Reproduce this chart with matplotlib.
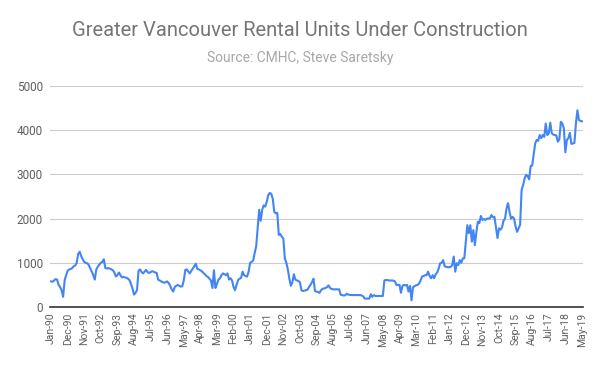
import numpy as np
import matplotlib
matplotlib.use("Agg")
import matplotlib.pyplot as plt

# monthly units under construction, Jan-90 .. May-19
units = [
    # 1990
    580, 570, 600, 630, 620, 500, 450, 380, 230, 600, 720, 820,
    # 1991
    850, 860, 880, 920, 940, 1000, 1200, 1250, 1150, 1080, 1020, 1000,
    # 1992
    990, 950, 870, 800, 720, 620, 850, 910, 960, 1000, 1020, 1080,
    # 1993
    880, 870, 880, 870, 850, 830, 780, 690, 720, 780, 720, 670,
    # 1994
    680, 670, 660, 640, 610, 520, 420, 280, 320, 380, 820, 850,
    # 1995
    790, 760, 800, 840, 790, 770, 790, 810, 800, 780, 770, 620,
    # 1996
    600, 580, 560, 550, 560, 580, 540, 480, 400, 350, 450, 480,
    # 1997
    500, 480, 460, 470, 600, 840, 850, 800, 760, 820, 870, 920,
    # 1998
    980, 860, 850, 830, 810, 770, 740, 700, 680, 640, 600, 430,
    # 1999
    830, 430, 520, 620, 650, 720, 760, 740, 720, 760, 620, 650,
    # 2000
    600, 450, 380, 500, 610, 640, 660, 800, 720, 700, 690, 800,
    # 2001
    1000, 1020, 1050, 1220, 1370, 1800, 2200, 1950, 2200, 2300, 2270, 2380,
    # 2002
    2530, 2580, 2560, 2450, 2150, 2120, 2130, 1630, 1650, 1590, 1550, 1100,
    # 2003
    1000, 850, 640, 480, 560, 740, 620, 600, 590, 560, 380, 360,
    # 2004
    370, 380, 390, 450, 500, 560, 640, 360, 350, 340, 320, 380,
    # 2005
    410, 420, 430, 450, 490, 430, 410, 400, 400, 400, 400, 400,
    # 2006
    280, 270, 260, 265, 300, 280, 275, 270, 270, 270, 270, 270,
    # 2007
    270, 270, 260, 240, 190, 190, 190, 190, 290, 230, 270, 250,
    # 2008
    250, 250, 250, 250, 250, 600, 610, 610, 600, 600, 600, 595,
    # 2009
    580, 500, 500, 500, 320, 480, 500, 490, 500, 350, 480, 150,
    # 2010
    450, 470, 490, 500, 530, 600, 690, 700, 720, 720, 800, 700,
    # 2011
    650, 720, 650, 740, 780, 870, 990, 1000, 1060, 920, 910, 900,
    # 2012
    900, 910, 950, 1140, 800, 990, 950, 1060, 1000, 1100, 1100, 1480,
    # 2013
    1850, 1670, 1850, 1480, 1740, 1400, 1700, 1930, 1900, 2060, 1970, 1990,
    # 2014
    1970, 2000, 2000, 2010, 2080, 2030, 2040, 1800, 1560, 1780, 1750, 1800,
    # 2015
    1950, 2000, 2230, 2350, 2150, 2000, 2040, 2000, 1820, 1700, 1780, 1860,
    # 2016
    2650, 2760, 2910, 2990, 2960, 2890, 3190, 3200, 3450, 3700, 3780, 3760,
    # 2017
    3890, 3820, 3890, 3850, 4150, 3890, 3930, 4170, 3930, 3900, 3890, 3880,
    # 2018
    3740, 3790, 4190, 4150, 4040, 3500, 3780, 3820, 3940, 3690, 3700, 3710,
    # 2019
    4150, 4450, 4230, 4210, 4200,
]

tick_labels = ["Jan-90", "Dec-90", "Nov-91", "Oct-92", "Sep-93", "Aug-94",
               "Jul-95", "Jun-96", "May-97", "Apr-98", "Mar-99", "Feb-00",
               "Jan-01", "Dec-01", "Nov-02", "Oct-03", "Sep-04", "Aug-05",
               "Jul-06", "Jun-07", "May-08", "Apr-09", "Mar-10", "Feb-11",
               "Jan-12", "Dec-12", "Nov-13", "Oct-14", "Sep-15", "Aug-16",
               "Jul-17", "Jun-18", "May-19"]
tick_step = 11  # months between labels
y_ticks = [0, 1000, 2000, 3000, 4000, 5000]

plt.rcParams['font.family'] = ['Roboto', 'DejaVu Sans']

fig = plt.figure(figsize=(6, 3.71), dpi=100)
ax = fig.add_axes([50 / 600, 1 - 307 / 371, 533 / 600, 221 / 371])

x = np.arange(len(units))
ax.plot(x, units, color='#4285F4', lw=1.5, solid_joinstyle='round')

ax.set_xlim(-0.7, len(units) - 0.3)
ax.set_ylim(0, 5000)
ax.set_yticks(y_ticks)
ax.set_yticklabels([str(v) for v in y_ticks], color='#5f5f5f', fontsize=8.5)
ax.set_xticks(np.arange(len(tick_labels)) * tick_step)
ax.set_xticklabels(tick_labels, rotation=90, color='#5f5f5f', fontsize=7.5)
ax.tick_params(length=0, pad=5)
ax.tick_params(axis='x', pad=4)

ax.grid(axis='y', color='#cccccc', lw=0.8)
ax.set_axisbelow(True)
for s in ['top', 'right', 'left']:
    ax.spines[s].set_visible(False)
ax.spines['bottom'].set_color('#333333')
ax.spines['bottom'].set_linewidth(1.2)
ax.spines['bottom'].set_zorder(3)

fig.text(0.5, 1 - 31 / 371, "Greater Vancouver Rental Units Under Construction",
         ha='center', va='center', fontsize=14.5, color='#757575')
fig.text(0.5, 1 - 58 / 371, "Source: CMHC, Steve Saretsky",
         ha='center', va='center', fontsize=10, color='#a8a8a8')

fig.savefig("out.png", dpi=100)
